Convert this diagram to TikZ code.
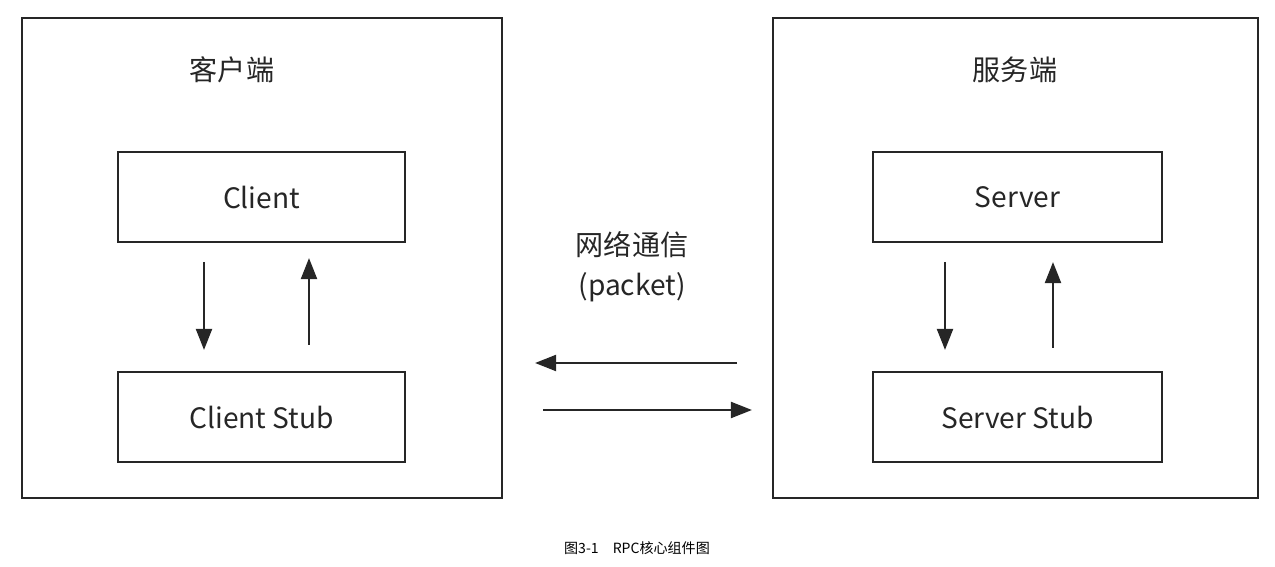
\documentclass[tikz,border=0pt]{standalone}
\usepackage{fontspec}
\setmainfont{Noto Sans CJK SC}
\usetikzlibrary{arrows.meta}
\begin{document}
\begin{tikzpicture}[x=0.02cm,y=-0.02cm,
  frame/.style={draw=black!85,line width=1.4pt},
  box/.style={draw=black!85,line width=1.4pt},
  lbl/.style={font=\fontsize{16}{18}\selectfont,text=black!85},
  arr/.style={line width=1.6pt,draw=black!85,-{Triangle[length=12pt,width=9pt]}}]
\useasboundingbox (0,0) rectangle (1275,567);
\draw[frame] (22,18) rectangle (502,498);
\draw[frame] (773,18) rectangle (1258,498);
\node[lbl] (t1) at (232,70) {客户端};
\node[lbl] (t2) at (1015,70) {服务端};
\draw[box] (118,152) rectangle (405,242);
\node[lbl] (c) at (261.5,197) {Client};
\draw[box] (118,372) rectangle (405,462);
\node[lbl] (cs) at (261.5,417) {Client Stub};
\draw[box] (873,152) rectangle (1162,242);
\node[lbl] (s) at (1017.5,197) {Server};
\draw[box] (873,372) rectangle (1162,462);
\node[lbl] (ss) at (1017.5,417) {Server Stub};
\coordinate (a1) at (204,262); \coordinate (a2) at (204,350);
\coordinate (b1) at (309,345); \coordinate (b2) at (309,258);
\coordinate (c1) at (945,262); \coordinate (c2) at (945,350);
\coordinate (d1) at (1053,348); \coordinate (d2) at (1053,262);
\coordinate (e1) at (737,363); \coordinate (e2) at (535,363);
\coordinate (f1) at (543,410); \coordinate (f2) at (752,410);
\draw[arr] (a1) -- (a2);
\draw[arr] (b1) -- (b2);
\draw[arr] (c1) -- (c2);
\draw[arr] (d1) -- (d2);
\draw[arr] (e1) -- (e2);
\draw[arr] (f1) -- (f2);
\node[lbl] (n1) at (632,245) {网络通信};
\node[lbl] (n2) at (632,287) {(packet)};
\node[font=\fontsize{8}{10}\selectfont] (cap) at (637,548) {图3-1\quad RPC核心组件图};
\end{tikzpicture}
\end{document}
